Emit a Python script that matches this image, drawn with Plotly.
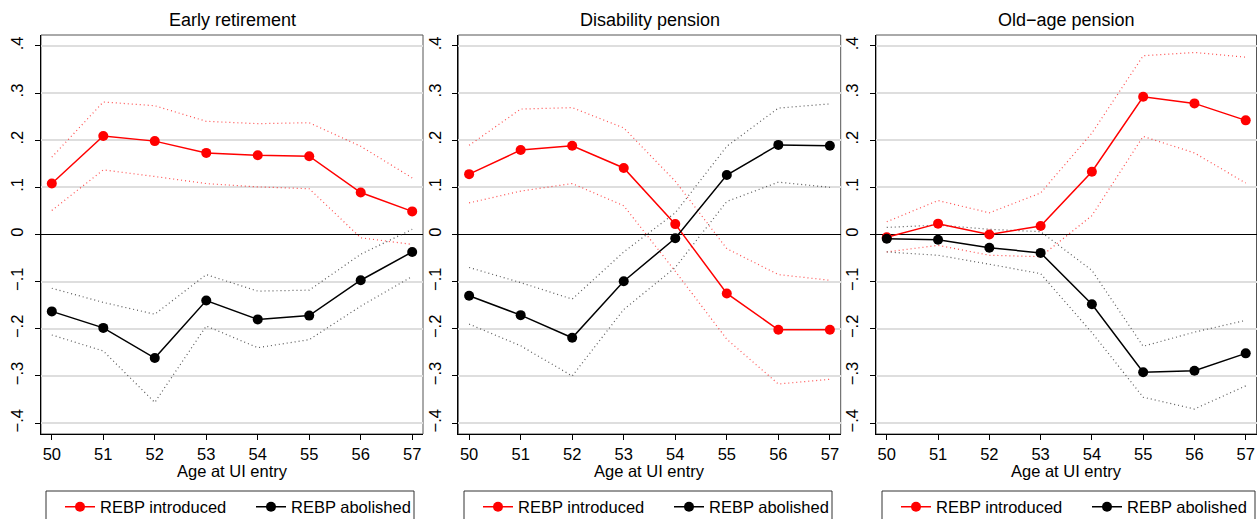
import plotly.graph_objects as go

ages = [50, 51, 52, 53, 54, 55, 56, 57]

er_intro = [0.108, 0.209, 0.198, 0.173, 0.168, 0.166, 0.089, 0.049]
er_intro_hi = [0.164, 0.281, 0.273, 0.240, 0.235, 0.237, 0.187, 0.120]
er_intro_lo = [0.051, 0.137, 0.123, 0.108, 0.101, 0.097, -0.007, -0.021]
er_abol = [-0.163, -0.198, -0.262, -0.140, -0.180, -0.172, -0.097, -0.037]
er_abol_hi = [-0.114, -0.144, -0.169, -0.085, -0.120, -0.118, -0.042, 0.011]
er_abol_lo = [-0.213, -0.247, -0.356, -0.194, -0.240, -0.223, -0.152, -0.089]

dp_intro = [0.128, 0.179, 0.188, 0.141, 0.022, -0.125, -0.202, -0.202]
dp_intro_hi = [0.189, 0.266, 0.269, 0.226, 0.113, -0.030, -0.085, -0.097]
dp_intro_lo = [0.067, 0.092, 0.108, 0.061, -0.078, -0.222, -0.317, -0.307]
dp_abol = [-0.130, -0.171, -0.219, -0.099, -0.008, 0.126, 0.190, 0.188]
dp_abol_hi = [-0.070, -0.102, -0.137, -0.037, 0.046, 0.187, 0.268, 0.277]
dp_abol_lo = [-0.190, -0.236, -0.300, -0.159, -0.070, 0.070, 0.111, 0.100]

oa_intro = [-0.006, 0.023, 0.000, 0.018, 0.133, 0.292, 0.278, 0.242]
oa_intro_hi = [0.027, 0.072, 0.046, 0.088, 0.215, 0.379, 0.386, 0.376]
oa_intro_lo = [-0.037, -0.023, -0.044, -0.047, 0.040, 0.208, 0.173, 0.109]
oa_abol = [-0.009, -0.011, -0.028, -0.039, -0.148, -0.292, -0.289, -0.252]
oa_abol_hi = [0.015, 0.020, 0.011, 0.006, -0.076, -0.237, -0.207, -0.182]
oa_abol_lo = [-0.037, -0.044, -0.063, -0.083, -0.208, -0.345, -0.370, -0.321]

titles = ["Early retirement", "Disability pension", "Old\u2212age pension"]
series_names = ["REBP introduced", "REBP abolished"]
y_ticks = [-0.4, -0.3, -0.2, -0.1, 0, 0.1, 0.2, 0.3, 0.4]
y_ticktext = ["\u2212.4", "\u2212.3", "\u2212.2", "\u2212.1", "0", ".1", ".2", ".3", ".4"]
x_title = "Age at UI entry"

panels = [
    (er_intro, er_intro_hi, er_intro_lo, er_abol, er_abol_hi, er_abol_lo),
    (dp_intro, dp_intro_hi, dp_intro_lo, dp_abol, dp_abol_hi, dp_abol_lo),
    (oa_intro, oa_intro_hi, oa_intro_lo, oa_abol, oa_abol_hi, oa_abol_lo),
]

W, H = 1257, 520
FONT = "Liberation Sans, Arial, sans-serif"
x_doms = [(41, 423), (458.3, 840.7), (876, 1256.5)]
leg_boxes = [(46, 414), (464, 832), (882, 1255)]
y_top, y_bot = 35, 434
RED = "#ff0000"
BLACK = "#000000"

fig = go.Figure()

def leg_name(k):
    return "legend" if k == 0 else "legend" + str(k + 1)

for i, (ri, rh, rl, bi, bh, bl) in enumerate(panels):
    sfx = "" if i == 0 else str(i + 1)
    xa, ya = "x" + sfx, "y" + sfx
    for vals, col in [(rh, "rgba(255,0,0,0.7)"), (rl, "rgba(255,0,0,0.7)"),
                      (bh, "rgba(60,60,60,0.85)"), (bl, "rgba(60,60,60,0.85)")]:
        fig.add_trace(go.Scatter(x=ages, y=vals, mode="lines", xaxis=xa, yaxis=ya,
                                 line=dict(color=col, width=1.2, dash="1px,3px"),
                                 showlegend=False, hoverinfo="skip"))
    fig.add_trace(go.Scatter(x=ages, y=ri, mode="lines+markers", name=series_names[0],
                             xaxis=xa, yaxis=ya, legend=leg_name(2 * i),
                             line=dict(color=RED, width=1.5),
                             marker=dict(color=RED, size=10)))
    fig.add_trace(go.Scatter(x=ages, y=bi, mode="lines+markers", name=series_names[1],
                             xaxis=xa, yaxis=ya, legend=leg_name(2 * i + 1),
                             line=dict(color=BLACK, width=1.5),
                             marker=dict(color=BLACK, size=10)))

layout = dict(
    template="none",
    width=W, height=H,
    margin=dict(l=0, r=0, t=0, b=0, pad=0, autoexpand=False),
    paper_bgcolor="white", plot_bgcolor="white",
    font=dict(family=FONT, color="black", size=16),
    annotations=[], shapes=[],
)

for i in range(3):
    sfx = "" if i == 0 else str(i + 1)
    x0, x1 = x_doms[i]
    layout["xaxis" + sfx] = dict(
        domain=[x0 / W, x1 / W], range=[49.79, 57.21], automargin=False,
        anchor="y" + sfx, tickvals=ages, ticks="outside", ticklen=5, tickcolor="black",
        showline=True, linecolor="black", linewidth=1, showgrid=False, zeroline=False,
        tickfont=dict(size=16.5, family=FONT), fixedrange=True,
    )
    layout["yaxis" + sfx] = dict(
        domain=[1 - y_bot / H, 1 - y_top / H], range=[-0.423, 0.423], automargin=False,
        anchor="x" + sfx, tickvals=y_ticks, ticktext=y_ticktext, tickangle=-90,
        ticks="outside", ticklen=5, tickcolor="black", ticklabelstandoff=5,
        showline=True, linecolor="black", linewidth=1,
        showgrid=True, gridcolor="#dedede", gridwidth=1.5,
        zeroline=True, zerolinecolor="black", zerolinewidth=1,
        tickfont=dict(size=16.5, family=FONT), fixedrange=True,
    )
    xref = "x" + sfx + " domain"
    yref = "y" + sfx + " domain"
    layout["shapes"].append(dict(type="rect", xref=xref, yref=yref, x0=0, x1=1, y0=0, y1=1,
                                 line=dict(color="#555555", width=1), layer="below"))
    bx0, bx1 = leg_boxes[i]
    px0, px1 = bx0 / W, bx1 / W
    ptop, pbot = 1 - 491 / H, 1 - 519 / H
    layout["shapes"].append(dict(type="path", xref="paper", yref="paper",
                                 path=f"M {px0},{pbot} L {px0},{ptop} L {px1},{ptop} L {px1},{pbot}",
                                 line=dict(color="#333333", width=1), layer="below"))
    layout["annotations"].append(dict(text=titles[i], xref=xref, yref="paper", x=0.5,
                                      y=1 - 20 / H, xanchor="center", yanchor="middle",
                                      showarrow=False, font=dict(size=18, family=FONT)))
    layout["annotations"].append(dict(text=x_title, xref=xref, yref="paper", x=0.5,
                                      y=1 - 471 / H, xanchor="center", yanchor="middle",
                                      showarrow=False, font=dict(size=16.5, family=FONT)))
    for j, off in enumerate([14, 205]):
        layout[leg_name(2 * i + j)] = dict(
            orientation="h", x=(bx0 + off) / W, xanchor="left", y=1 - 507 / H,
            yanchor="middle", borderwidth=0, bgcolor="rgba(0,0,0,0)",
            font=dict(size=16.5, family=FONT), itemwidth=30,
        )

fig.update_layout(**layout)
fig.write_html(
    "out.html", config={"displayModeBar": False},
    post_script=(
        "document.documentElement.style.overflow='hidden';"
        "document.body.style.margin='0';document.body.style.overflow='hidden';"
    ),
)
